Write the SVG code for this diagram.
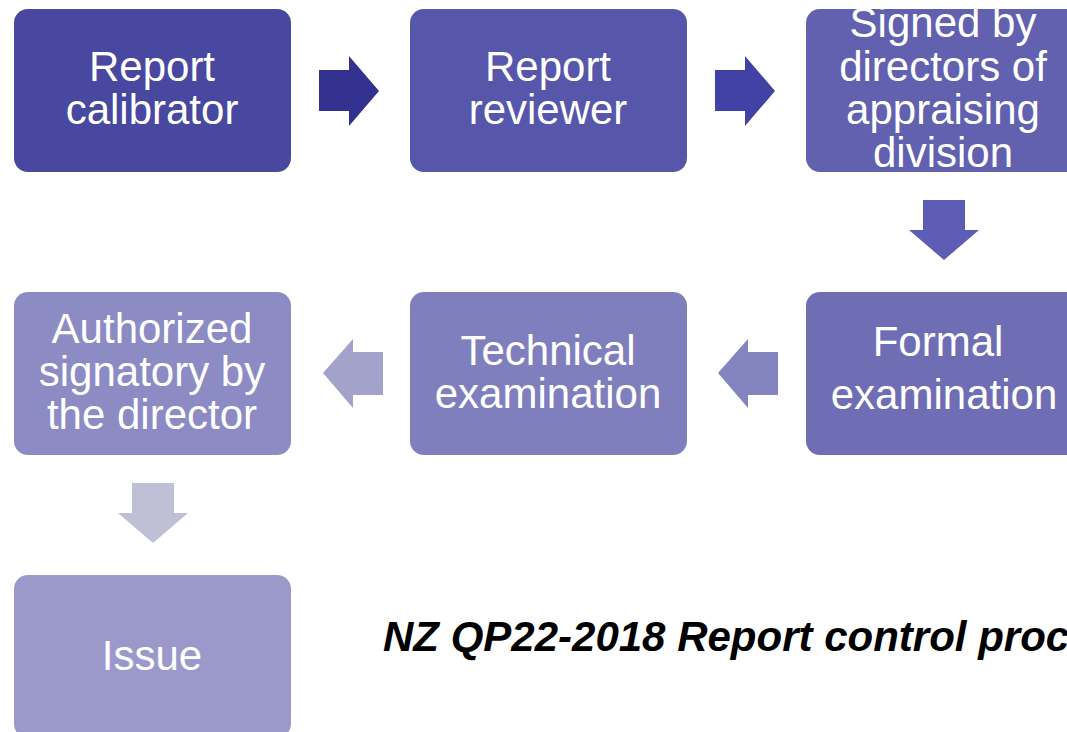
<svg xmlns="http://www.w3.org/2000/svg" width="1067" height="732" viewBox="0 0 1067 732">
  <style>
    .box { stroke: none; }
    .lbl { font-family: "Liberation Sans", Arial, sans-serif; font-size: 42px; fill: #ffffff; text-anchor: middle; }
    .cap { font-family: "Liberation Sans", Arial, sans-serif; font-size: 42px; font-weight: bold; font-style: italic; fill: #000000; }
  </style>
  <rect width="1067" height="732" fill="#ffffff"/>

  <!-- block arrows between the steps -->
  <g id="connectors">
    <polygon points="319,70 349,70 349,56 379,91 349,126 349,111 319,111" fill="#33318F"/>
    <polygon points="715,70 745,70 745,56 775,91 745,126 745,111 715,111" fill="#4241A6"/>
    <polygon points="923,200 965,200 965,230 979,230 944,260 909,230 923,230" fill="#5E5DB5"/>
    <polygon points="778,352 748,352 748,339 718,373 748,408 748,395 778,395" fill="#8484C1"/>
    <polygon points="383,352 353,352 353,339 323,373 353,408 353,395 383,395" fill="#A3A2CA"/>
    <polygon points="132,483 174,483 174,513 188,513 153,543 118,513 132,513" fill="#BFBFD6"/>
  </g>

  <g id="calibrator">
    <rect class="box" x="14" y="9" width="277" height="163" rx="14" fill="#4848A0"/>
    <text class="lbl" x="152" y="81">Report</text>
    <text class="lbl" x="152" y="124">calibrator</text>
  </g>

  <g id="reviewer">
    <rect class="box" x="410" y="9" width="277" height="163" rx="14" fill="#5656AA"/>
    <text class="lbl" x="548" y="81">Report</text>
    <text class="lbl" x="548" y="124">reviewer</text>
  </g>

  <g id="directors">
    <rect class="box" x="806" y="9" width="277" height="163" rx="14" fill="#6261AF"/>
    <text class="lbl" x="943" y="37">Signed by</text>
    <text class="lbl" x="943" y="81">directors of</text>
    <text class="lbl" x="943" y="124">appraising</text>
    <text class="lbl" x="943" y="167">division</text>
  </g>

  <g id="formal">
    <rect class="box" x="806" y="292" width="277" height="163" rx="14" fill="#6F6EB5"/>
    <text class="lbl" x="938" y="356">Formal</text>
    <text class="lbl" x="944" y="409">examination</text>
  </g>

  <g id="technical">
    <rect class="box" x="410" y="292" width="277" height="163" rx="14" fill="#807FBE"/>
    <text class="lbl" x="548" y="365">Technical</text>
    <text class="lbl" x="548" y="408">examination</text>
  </g>

  <g id="authorized">
    <rect class="box" x="14" y="292" width="277" height="163" rx="14" fill="#8C8BC4"/>
    <text class="lbl" x="152" y="343">Authorized</text>
    <text class="lbl" x="152" y="386">signatory by</text>
    <text class="lbl" x="152" y="429">the director</text>
  </g>

  <g id="issue">
    <rect class="box" x="14" y="575" width="277" height="163" rx="14" fill="#9A99CA"/>
    <text class="lbl" x="152" y="670">Issue</text>
  </g>

  <text class="cap" x="383" y="651">NZ QP22-2018 Report control procedure</text>
</svg>
